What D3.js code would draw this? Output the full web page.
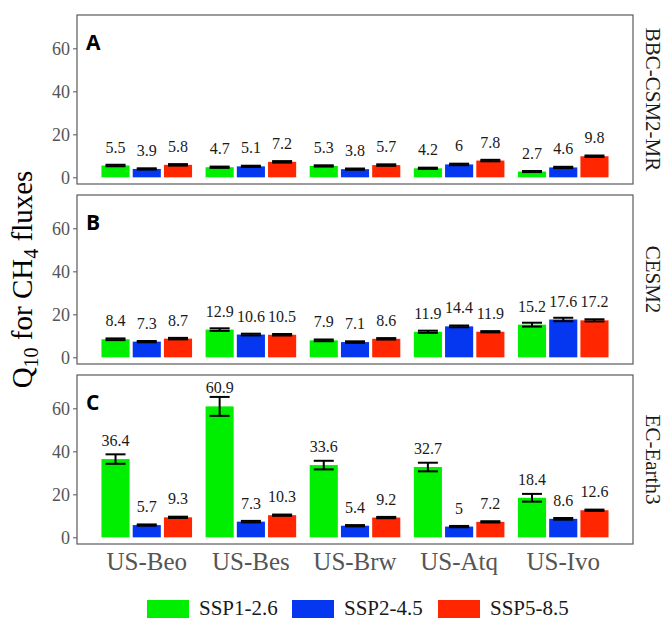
<!DOCTYPE html>
<html>
<head>
<meta charset="utf-8">
<script src="https://cdn.jsdelivr.net/npm/d3@7"></script>
<style>
    body { margin: 0; background: #fff; }
    svg { display: block; }
</style>
</head>
<body>
<svg id="chart" width="665" height="620"></svg>
<script>
const sites = ["US-Beo", "US-Bes", "US-Brw", "US-Atq", "US-Ivo"];
const scenarios = ["SSP1-2.6", "SSP2-4.5", "SSP5-8.5"];
const models = ["BBC-CSM2-MR", "CESM2", "EC-Earth3"];
const panelTags = ["A", "B", "C"];
const yTicks = [0, 20, 40, 60];

// values per site: [SSP1-2.6, SSP2-4.5, SSP5-8.5]
const bbcValues = [[5.5, 3.9, 5.8], [4.7, 5.1, 7.2], [5.3, 3.8, 5.7], [4.2, 6, 7.8], [2.7, 4.6, 9.8]];
const bbcErrors = [[0.35, 0.3, 0.35], [0.3, 0.3, 0.35], [0.3, 0.3, 0.35], [0.3, 0.35, 0.35], [0.25, 0.3, 0.35]];
const cesmValues = [[8.4, 7.3, 8.7], [12.9, 10.6, 10.5], [7.9, 7.1, 8.6], [11.9, 14.4, 11.9], [15.2, 17.6, 17.2]];
const cesmErrors = [[0.4, 0.3, 0.35], [0.6, 0.4, 0.35], [0.4, 0.35, 0.35], [0.5, 0.4, 0.3], [0.9, 0.8, 0.5]];
const ecValues = [[36.4, 5.7, 9.3], [60.9, 7.3, 10.3], [33.6, 5.4, 9.2], [32.7, 5, 7.2], [18.4, 8.6, 12.6]];
const ecErrors = [[2.2, 0.3, 0.3], [4.4, 0.35, 0.3], [2.0, 0.3, 0.3], [2.0, 0.3, 0.3], [1.8, 0.4, 0.3]];

const panelValues = [bbcValues, cesmValues, ecValues];
const panelErrors = [bbcErrors, cesmErrors, ecErrors];

const colors = d3.scaleOrdinal()
    .domain(scenarios)
    .range(["#00ee00", "#0536f0", "#ff2600"]);

const serif = "'Liberation Serif', 'Times New Roman', serif";
const svg = d3.select("#chart");

const left = 77, right = 633;
const panelTops = [15, 195, 375];
const panelHeight = 169;

const x0 = d3.scaleBand()
    .domain(sites)
    .range([left, right])
    .paddingInner(0.13)
    .paddingOuter(0.235);

const x1 = d3.scaleBand()
    .domain(scenarios)
    .range([0, x0.bandwidth()])
    .paddingInner(0.1);

panelTops.forEach((top, p) => {
    const y = d3.scaleLinear()
        .domain([-3.1, 75.5])
        .range([top + panelHeight, top]);

    const g = svg.append("g");

    // y axis
    const axis = g.append("g")
        .attr("transform", `translate(${left},0)`)
        .call(d3.axisLeft(y).tickValues(yTicks).tickSize(4).tickPadding(3));
    axis.select(".domain").remove();
    axis.selectAll("line").attr("stroke", "#555");
    axis.selectAll("text")
        .attr("fill", "#555")
        .style("font-family", serif)
        .style("font-size", "18px");

    const rows = [];
    sites.forEach((site, i) => {
        scenarios.forEach((sc, j) => {
            rows.push({ site, sc, value: panelValues[p][i][j], err: panelErrors[p][i][j] });
        });
    });

    const cx = (d) => x0(d.site) + x1(d.sc) + x1.bandwidth() / 2;

    g.selectAll("rect.bar")
        .data(rows)
        .enter()
        .append("rect")
        .attr("class", "bar")
        .attr("x", (d) => x0(d.site) + x1(d.sc))
        .attr("y", (d) => y(d.value))
        .attr("width", x1.bandwidth())
        .attr("height", (d) => y(0) - y(d.value))
        .attr("fill", (d) => colors(d.sc));

    // error bars
    const capHalf = 10;
    const eb = g.selectAll("g.err")
        .data(rows)
        .enter()
        .append("g")
        .attr("stroke", "#000")
        .attr("stroke-width", 2);
    eb.append("line")
        .attr("x1", cx).attr("x2", cx)
        .attr("y1", (d) => y(d.value + d.err))
        .attr("y2", (d) => y(d.value - d.err));
    eb.append("line")
        .attr("x1", (d) => cx(d) - capHalf).attr("x2", (d) => cx(d) + capHalf)
        .attr("y1", (d) => y(d.value + d.err)).attr("y2", (d) => y(d.value + d.err));
    eb.append("line")
        .attr("x1", (d) => cx(d) - capHalf).attr("x2", (d) => cx(d) + capHalf)
        .attr("y1", (d) => y(d.value - d.err)).attr("y2", (d) => y(d.value - d.err));

    // value labels
    g.selectAll("text.val")
        .data(rows)
        .enter()
        .append("text")
        .attr("class", "val")
        .attr("x", cx)
        .attr("y", (d) => y(d.value + 8.6) + 5.5)
        .attr("text-anchor", "middle")
        .attr("fill", "#1a1a1a")
        .style("font-family", serif)
        .style("font-size", "16px")
        .text((d) => d.value);

    // panel border
    g.append("rect")
        .attr("x", left)
        .attr("y", top)
        .attr("width", right - left)
        .attr("height", panelHeight)
        .attr("fill", "none")
        .attr("stroke", "#5a5a5a")
        .attr("stroke-width", 1.2);

    // panel tag
    g.append("text")
        .attr("x", 86)
        .attr("y", top + 35)
        .attr("fill", "#000")
        .style("font-family", "'Open Sans', 'DejaVu Sans', sans-serif")
        .style("font-weight", "bold")
        .style("font-size", "21px")
        .text(panelTags[p]);

    // strip label on the right
    g.append("text")
        .attr("transform", `translate(646,${top + panelHeight / 2}) rotate(90)`)
        .attr("text-anchor", "middle")
        .attr("fill", "#1a1a1a")
        .style("font-family", serif)
        .style("font-size", "21px")
        .text(models[p]);
});

// x axis labels under the last panel
const xAxis = svg.append("g")
    .attr("transform", `translate(0,${panelTops[2] + panelHeight})`)
    .call(d3.axisBottom(x0).tickSize(0).tickPadding(8));
xAxis.select(".domain").remove();
xAxis.selectAll("text")
    .attr("fill", "#555")
    .style("font-family", serif)
    .style("font-size", "25px");

// y title
const yTitle = svg.append("text")
    .attr("transform", `translate(32,${(panelTops[0] + panelTops[2] + panelHeight) / 2}) rotate(-90)`)
    .attr("text-anchor", "middle")
    .attr("fill", "#000")
    .style("font-family", serif)
    .style("font-size", "29px");
yTitle.append("tspan").text("Q");
yTitle.append("tspan").attr("dy", 6).style("font-size", "20px").text("10");
yTitle.append("tspan").attr("dy", -6).text(" for CH");
yTitle.append("tspan").attr("dy", 6).style("font-size", "20px").text("4");
yTitle.append("tspan").attr("dy", -6).text(" fluxes");

// legend
const legendX = [147, 292, 438];
const legend = svg.append("g");
scenarios.forEach((sc, i) => {
    legend.append("rect")
        .attr("x", legendX[i])
        .attr("y", 600)
        .attr("width", 42)
        .attr("height", 18)
        .attr("fill", colors(sc));
    legend.append("text")
        .attr("x", legendX[i] + 52)
        .attr("y", 615)
        .attr("fill", "#1a1a1a")
        .style("font-family", serif)
        .style("font-size", "21px")
        .text(sc);
});
</script>
</body>
</html>
